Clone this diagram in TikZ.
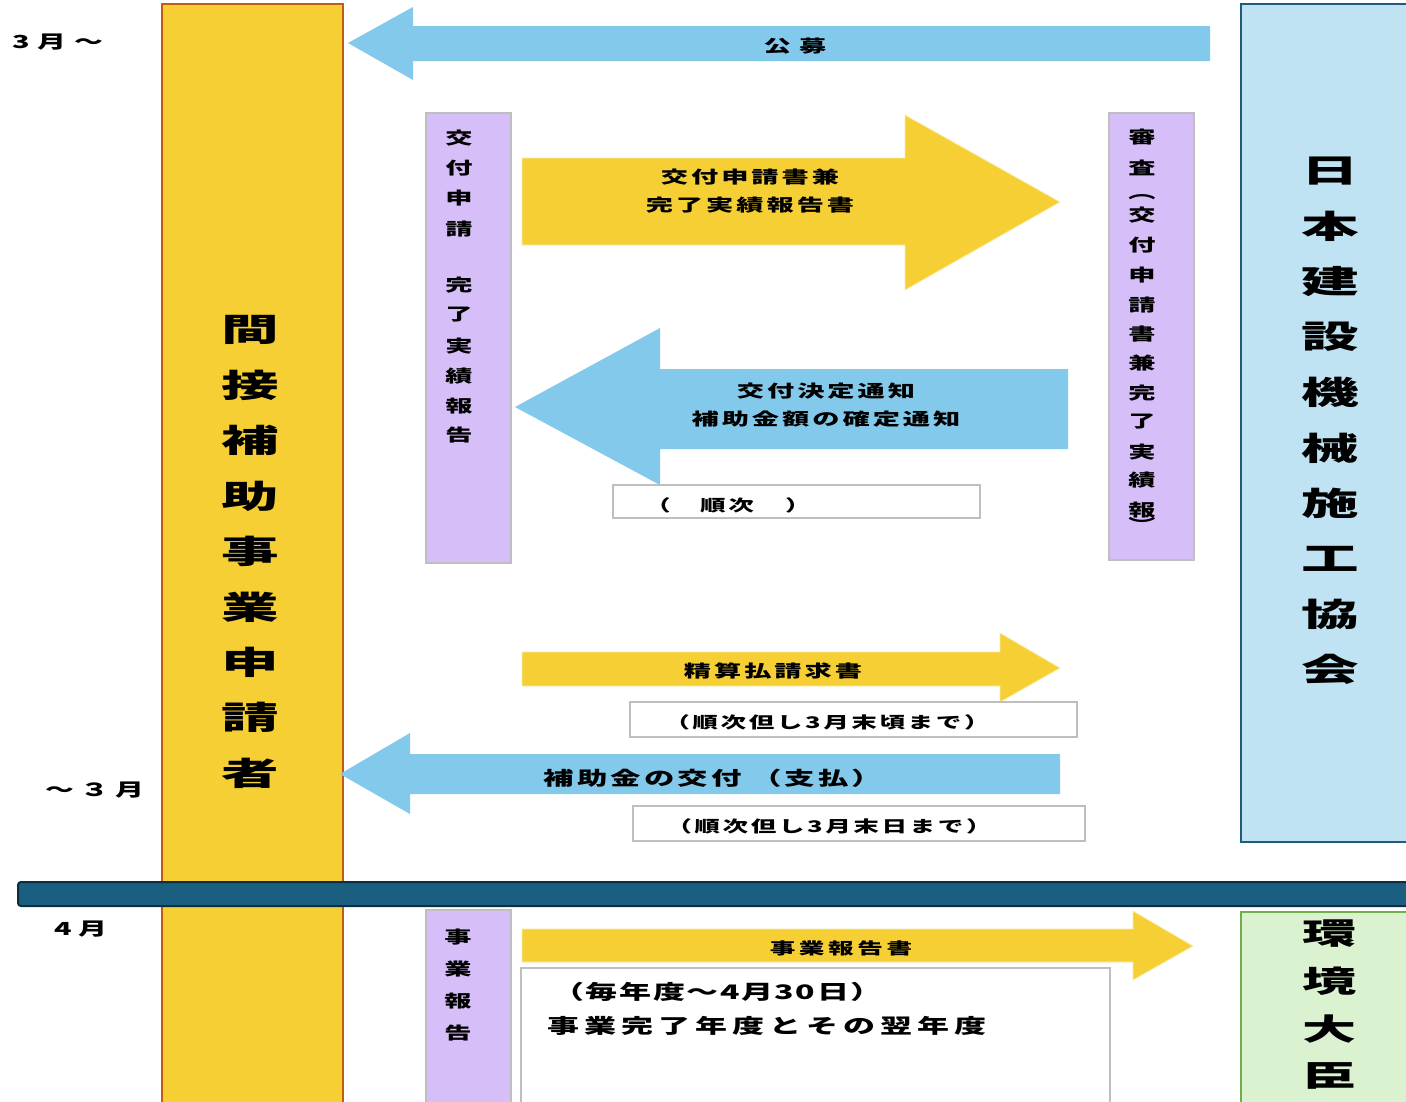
\documentclass[tikz,border=0pt]{standalone}
\usepackage{fontspec}
\usepackage{graphicx}
\setmainfont{Noto Sans CJK JP}
\definecolor{ylw}{HTML}{F5CF33}
\definecolor{orng}{HTML}{C55A11}
\definecolor{blu}{HTML}{83C9EB}
\definecolor{lblu}{HTML}{BFE3F3}
\definecolor{dblu}{HTML}{1E5C7A}
\definecolor{prp}{HTML}{D6BFF9}
\definecolor{gry}{HTML}{BFBFBF}
\definecolor{grn}{HTML}{DAF2D0}
\definecolor{dgrn}{HTML}{6FB04A}
\definecolor{bar}{HTML}{1A5E80}
\definecolor{bardk}{HTML}{0E2F40}
\newcommand\sx[1]{\scalebox{1.6}[1]{#1}}
\newcommand\bx[1]{\scalebox{1.8}[1]{#1}}
\newcommand\fs[2]{\fontsize{#1}{#1}\selectfont\addfontfeature{LetterSpace=#2}}
\tikzset{
  t/.style={inner sep=0pt, font=\bfseries},
  pbox/.style={fill=prp, draw=gry, line width=1.5pt},
  wbox/.style={fill=white, draw=gry, line width=1.5pt},
  yarrow/.style={fill=ylw, draw=ylw!40, line width=0.8pt},
  barrow/.style={fill=blu},
}
\begin{document}
\begin{tikzpicture}[x=1pt,y=-1pt]
\useasboundingbox (0,0) rectangle (1406,1101);
\clip (0,0) rectangle (1406,1101);
\fill[white] (0,0) rectangle (1406,1101);

% left yellow column
\draw[fill=ylw, draw=orng, line width=2pt] (162,4) rectangle (343,1115);
\foreach \c [count=\i from 0] in {間,接,補,助,事,業,申,請,者}
  \node[t] (col\i) at (250,{330+\i*55.4}) {\bx{\fs{32}{0}\c}};

% right blue box
\draw[fill=lblu, draw=dblu, line width=2pt] (1241,4) rectangle (1415,842);
\foreach \c [count=\i from 0] in {日,本,建,設,機,械,施,工,協,会}
  \node[t] (jc\i) at (1330,{171+\i*55.4}) {\bx{\fs{32}{0}\c}};

% green box
\draw[fill=grn, draw=dgrn, line width=2pt] (1241,912) rectangle (1415,1115);
\foreach \c [count=\i from 0] in {環,境,大,臣}
  \node[t] (env\i) at (1329,{934+\i*47.3}) {\bx{\fs{30}{0}\c}};

% time labels
\node[t] (m1) at (58,42) {\sx{\fs{18}{28}3月～}};
\node[t] (m2) at (95,790) {\sx{\fs{18}{22}～３月}};
\node[t] (m3) at (81,929) {\sx{\fs{18}{22}4月}};

% purple boxes
\draw[pbox] (426,113) rectangle (511,563);
\foreach \yy/\c in {138/交,168/付,198/申,229/請,285/完,315/了,346/実,376/績,406/報,435/告}
  \node[t] (lp\yy) at (459,\yy) {\sx{\fs{17}{0}\c}};

\draw[pbox] (1109,113) rectangle (1194,560);
\foreach \yy/\c in {137/審,168/査,197/︵,215/交,245/付,275/申,305/請,334/書,363/兼,393/完,422/了,452/実,480/績,510/報,524/︶}
  \node[t] (rp\yy) at (1142,\yy) {\sx{\fs{17}{0}\c}};

\draw[pbox] (426,910) rectangle (511,1115);
\foreach \yy/\c in {937/事,969/業,1001/報,1033/告}
  \node[t] (bp\yy) at (458,\yy) {\sx{\fs{17}{0}\c}};

% arrow: 公募
\fill[barrow] (348,43) -- (413,7) -- (413,26) -- (1210,26) -- (1210,61) -- (413,61) -- (413,80) -- cycle;
\node[t] (koubo) at (795,46) {\sx{\fs{17}{30}公募}};

% arrow 1
\filldraw[yarrow] (522,158) -- (905,158) -- (905,115) -- (1060,202) -- (905,290) -- (905,245) -- (522,245) -- cycle;
\node[t] (a1a) at (750,177) {\sx{\fs{17}{11}交付申請書兼}};
\node[t] (a1b) at (750,205) {\sx{\fs{17}{11}完了実績報告書}};

% arrow 2
\fill[barrow] (1068,369) -- (660,369) -- (660,328) -- (515,407) -- (660,485) -- (660,449) -- (1068,449) -- cycle;
\node[t] (a2a) at (826,391) {\sx{\fs{17}{11}交付決定通知}};
\node[t] (a2b) at (826,419) {\sx{\fs{17}{11}補助金額の確定通知}};

\draw[wbox] (613,485) rectangle (980,518);
\node[t] (jp1) at (658,505) {\sx{\fs{16}{0}（}};
\node[t] (jj) at (727,505) {\sx{\fs{16}{10}順次}};
\node[t] (jp2) at (798,505) {\sx{\fs{16}{0}）}};

% arrow 3
\filldraw[yarrow] (522,652) -- (1000,652) -- (1000,633) -- (1060,668) -- (1000,702) -- (1000,686) -- (522,686) -- cycle;
\node[t] (a3) at (773,671) {\sx{\fs{17}{11}精算払請求書}};
\draw[wbox] (630,702) rectangle (1077,737);
\node[t] (b3) at (827,722) {\sx{\fs{16}{10}（順次但し3月末頃まで）}};

% arrow 4
\fill[barrow] (1060,754) -- (410,754) -- (410,733) -- (340,774) -- (410,814) -- (410,794) -- (1060,794) -- cycle;
\node[t] (a4) at (713,778) {\sx{\fs{19}{10}補助金の交付 （支払）}};
\draw[wbox] (633,806) rectangle (1085,841);
\node[t] (b4) at (829,826) {\sx{\fs{16}{10}（順次但し3月末日まで）}};

% dark bar
\draw[fill=bar, draw=bardk, line width=2pt, rounded corners=3pt] (18,882) rectangle (1420,906);

% arrow 5
\filldraw[yarrow] (522,929) -- (1133,929) -- (1133,911) -- (1193,946) -- (1133,980) -- (1133,962) -- (522,962) -- cycle;
\node[t] (a5) at (841,948) {\sx{\fs{16}{14}事業報告書}};
\draw[wbox] (521,968) rectangle (1110,1115);
\node[t, anchor=west] (b5a) at (552,992) {\sx{\fs{20}{5}（毎年度～4月30日）}};
\node[t, anchor=west] (b5b) at (547,1026) {\sx{\fs{20}{16}事業完了年度とその翌年度}};
\end{tikzpicture}
\end{document}
